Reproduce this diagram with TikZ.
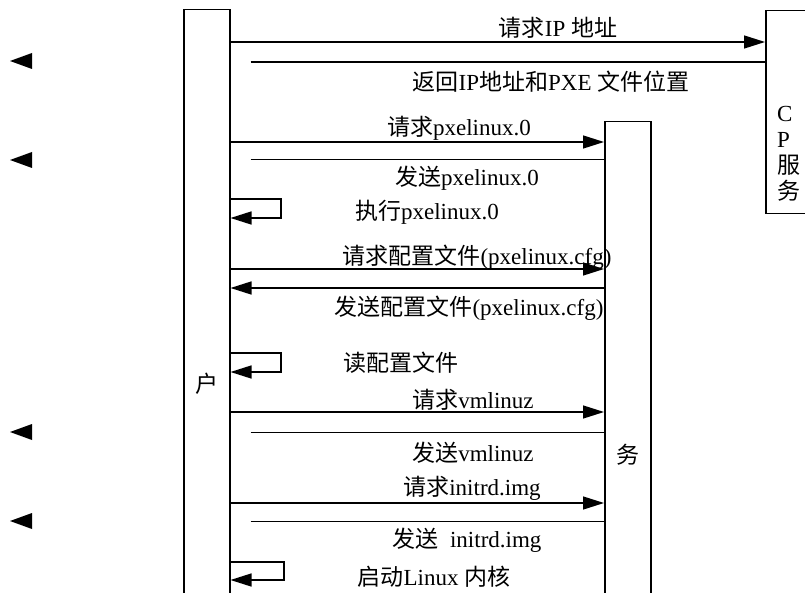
\documentclass[tikz,border=0pt]{standalone}
\usepackage{fontspec}
\setmainfont{Liberation Serif}
\newfontfamily\cjk{Noto Sans CJK SC}
\usetikzlibrary{arrows.meta, positioning, calc}

\newcommand{\zh}[1]{{\cjk #1}}

\begin{document}
\begin{tikzpicture}[
    x=1pt, y=-1pt,
    lifebox/.style={rectangle, draw, line width=1.5pt, inner sep=0pt, minimum width=46pt, anchor=north west},
    msg/.style={-{Triangle[length=21pt, width=13pt]}, line width=1.4pt},
    reply/.style={line width=1pt},
    lbl/.style={font=\fontsize{23}{26}\selectfont, inner sep=0pt}
]
    \useasboundingbox (0,0) rectangle (805,593);

    \node[lifebox, minimum height=600pt] (client) at (183,9) {};
    \node[lifebox, minimum height=480pt] (tftp) at (604,121) {};
    \node[lifebox, minimum width=50pt, minimum height=203pt] (dhcp) at (765,10) {};

    \node[lbl] (clienttxt) at (207,384) {\zh{户}};
    \node[lbl] (tftptxt) at (628,455) {\zh{务}};
    \node[lbl, align=left, anchor=north west] (dhcptxt) at (777,106) {C\\P\\\zh{服}\\\zh{务}};

    \draw[msg] (client.east |- 0,42) -- (dhcp.west |- 0,42);
    \draw[reply, line width=1.4pt] ($(client.east |- 0,62)+(20,0)$) -- (dhcp.west |- 0,62);
    \draw[msg] (client.east |- 0,142) -- (tftp.west |- 0,142);
    \draw[reply] ($(client.east |- 0,160)+(20,0)$) -- (tftp.west |- 0,160);
    \draw[msg] (client.east |- 0,199) -| (281,218) -- (client.east |- 0,218);
    \draw[msg] (client.east |- 0,269) -- (tftp.west |- 0,269);
    \draw[msg] (tftp.west |- 0,288) -- (client.east |- 0,288);
    \draw[msg] (client.east |- 0,353) -| (281,372) -- (client.east |- 0,372);
    \draw[msg] (client.east |- 0,412) -- (tftp.west |- 0,412);
    \draw[reply] ($(client.east |- 0,432)+(20,0)$) -- (tftp.west |- 0,432);
    \draw[msg] (client.east |- 0,503) -- (tftp.west |- 0,503);
    \draw[reply] ($(client.east |- 0,521)+(20,0)$) -- (tftp.west |- 0,521);
    \draw[msg] (client.east |- 0,562) -| (284,580) -- (client.east |- 0,580);

    \foreach \y in {61,160,432,521}
        \fill (32,\y-8) -- (10,\y) -- (32,\y+8) -- cycle;

    \node[lbl] (ipreq) at (558,28) {\zh{请求}IP \zh{地址}};
    \node[lbl] (ipack) at (551,82) {\zh{返回}IP\zh{地址和}PXE \zh{文件位置}};
    \node[lbl] (pxereq) at (459,128) {\zh{请求}pxelinux.0};
    \node[lbl] (pxeack) at (467,178) {\zh{发送}pxelinux.0};
    \node[lbl] (pxerun) at (427,212) {\zh{执行}pxelinux.0};
    \node[lbl] (cfgreq) at (477,257) {\zh{请求配置文件}(pxelinux.cfg)};
    \node[lbl] (cfgack) at (469,308) {\zh{发送配置文件}(pxelinux.cfg)};
    \node[lbl] (cfgread) at (401,363) {\zh{读配置文件}};
    \node[lbl] (kerreq) at (473,400) {\zh{请求}vmlinuz};
    \node[lbl] (kerack) at (473,453) {\zh{发送}vmlinuz};
    \node[lbl] (initreq) at (472,488) {\zh{请求}initrd.img};
    \node[lbl] (initack) at (467,540) {\zh{发送}\ \ initrd.img};
    \node[lbl] (boot) at (434,577) {\zh{启动}Linux \zh{内核}};
\end{tikzpicture}
\end{document}
